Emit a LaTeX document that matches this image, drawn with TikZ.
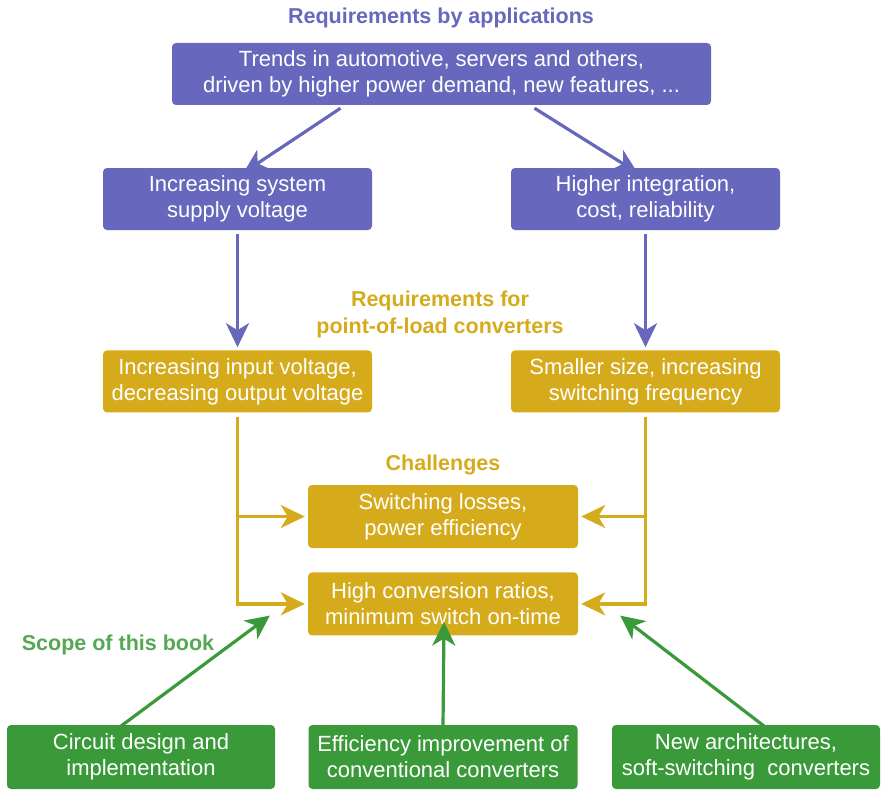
\documentclass[tikz,border=0pt]{standalone}
\usepackage{fontspec}
\setmainfont{Liberation Sans}
\usetikzlibrary{positioning,arrows.meta}

\definecolor{appcol}{RGB}{103,103,189}
\definecolor{polcol}{RGB}{213,171,28}
\definecolor{scopecol}{RGB}{58,154,58}
\definecolor{scopetxt}{RGB}{84,168,84}

\tikzset{
  box/.style={rounded corners=4pt,text=white,align=center,inner sep=0pt,
    minimum width=269pt,minimum height=62pt,font=\fontsize{22}{26}\selectfont},
  appbox/.style={box,fill=appcol},
  polbox/.style={box,fill=polcol},
  scopebox/.style={box,fill=scopecol,minimum height=64pt},
  heading/.style={align=center,font=\bfseries\fontsize{21.5}{27}\selectfont},
  tip/.style={-{Stealth[length=24pt,width=23pt,inset=7pt]}},
  appline/.style={tip,draw=appcol,line width=3.2pt},
  polline/.style={tip,draw=polcol,line width=3.2pt},
  scopeline/.style={tip,draw=scopecol,line width=3.2pt}
}

\begin{document}
\begin{tikzpicture}[x=1pt,y=-1pt]
  \useasboundingbox (0,0) rectangle (882,789);

  % applications
  \node[heading,text=appcol](apphead) at (441,18){Requirements by applications};
  \node[appbox,minimum width=539pt](trends) at (441.5,74){Trends in automotive, servers and others,\\driven by higher power demand, new features, ...};
  \node[appbox](supply) at (237.5,199){Increasing system\\supply voltage};
  \node[appbox](integ) at (645.5,199){Higher integration,\\cost, reliability};

  % point-of-load converters
  \node[heading,text=polcol](polhead) at (440,314){Requirements for\\point-of-load converters};
  \node[polbox](involt)[below=120pt of supply]{Increasing input voltage,\\decreasing output voltage};
  \node[polbox](size)[below=120pt of integ]{Smaller size, increasing\\switching frequency};

  % challenges
  \node[heading,text=polcol](chhead) at (443,465){Challenges};
  \node[polbox,minimum width=270pt,minimum height=63pt](losses) at (443,516.5){Switching losses,\\power efficiency};
  \node[polbox,minimum width=270pt,minimum height=63pt](ratios)[below=24pt of losses]{High conversion ratios,\\minimum switch on-time};

  % scope
  \node[heading,text=scopetxt](scopehead) at (118,645){Scope of this book};
  \node[scopebox,minimum width=268pt](circuit) at (141,757){Circuit design and\\implementation};
  \node[scopebox](effic) at (443,757){Efficiency improvement of\\conventional converters};
  \node[scopebox,minimum width=268pt](newarch) at (746,757){New architectures,\\soft-switching\ \ converters};

  \draw[appline] ([xshift=-101pt,yshift=-3pt]trends.south) -- ([xshift=6pt,yshift=-5pt]supply.north);
  \draw[appline] ([xshift=93pt,yshift=-3pt]trends.south) -- ([xshift=-8pt,yshift=-5pt]integ.north);
  \draw[appline,shorten <=4pt,shorten >=3pt] (supply) -- (involt);
  \draw[appline,shorten <=4pt,shorten >=3pt] (integ) -- (size);

  \draw[polline,shorten <=4pt,shorten >=3pt] (involt.south) |- (losses.west);
  \draw[polline,shorten <=4pt,shorten >=3pt] (involt.south) |- (ratios.west);
  \draw[polline,shorten <=4pt,shorten >=3pt] (size.south) |- (losses.east);
  \draw[polline,shorten <=4pt,shorten >=3pt] (size.south) |- (ratios.east);

  \draw[scopeline] ([xshift=-21pt,yshift=-2pt]circuit.north) -- ([xshift=-38pt,yshift=20pt]ratios.south west);
  \draw[scopeline] ([yshift=-2pt]effic.north) -- ([xshift=1pt,yshift=14pt]ratios.south);
  \draw[scopeline] ([xshift=19pt,yshift=-2pt]newarch.north) -- ([xshift=42pt,yshift=20pt]ratios.south east);
\end{tikzpicture}
\end{document}
